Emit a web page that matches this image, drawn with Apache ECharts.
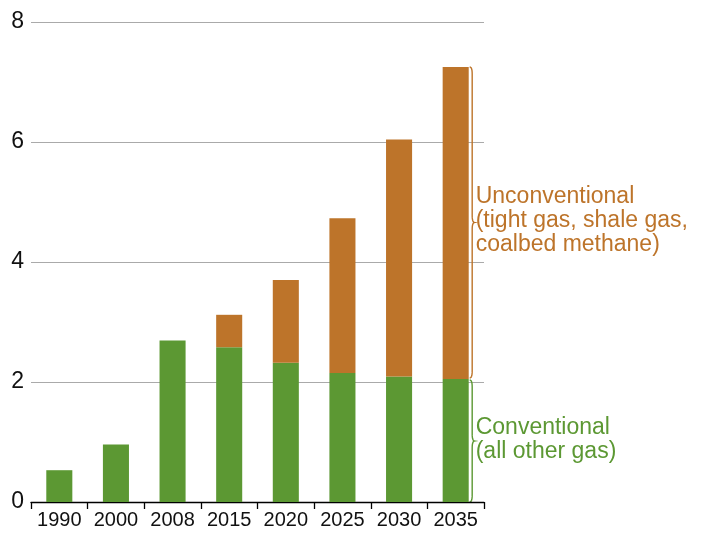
<!DOCTYPE html>
<html><head><meta charset="utf-8">
<script src="https://cdn.jsdelivr.net/npm/echarts@6/dist/echarts.min.js"></script>
<style>html,body{margin:0;padding:0;background:#fff}#c{width:709px;height:533px}</style>
</head><body><div id="c"></div>
<script>
const categories = ['1990','2000','2008','2015','2020','2025','2030','2035'];
const conventional = [0.53, 0.96, 2.69, 2.58, 2.32, 2.15, 2.09, 2.05];
const unconventional = [0, 0, 0, 0.54, 1.38, 2.58, 3.95, 5.20];
const yTicks = [0, 2, 4, 6, 8];
const labelUnconv = 'Unconventional\n(tight gas, shale gas,\ncoalbed methane)';
const labelConv = 'Conventional\n(all other gas)';

const GREEN = '#5C9833', ORANGE = '#BD742A';
const FONT = '"Liberation Sans", Arial, sans-serif';
const chart = echarts.init(document.getElementById('c'));
chart.setOption({
  animation: false,
  grid: {left: 31, right: 225, top: 22, bottom: 31},
  xAxis: {
    type: 'category', data: categories, boundaryGap: true,
    axisLine: {lineStyle: {color: '#000', width: 1.3}},
    axisTick: {show: true, length: 7, interval: 0, lineStyle: {color: '#000', width: 1.3}},
    axisLabel: {color: '#111', fontSize: 20, fontFamily: FONT, margin: 8, interval: 0}
  },
  yAxis: {
    type: 'value', min: yTicks[0], max: yTicks[yTicks.length-1], interval: 2,
    axisLine: {show: false}, axisTick: {show: false},
    splitLine: {lineStyle: {color: '#aaa', width: 1}},
    axisLabel: {color: '#111', fontSize: 23, fontFamily: FONT, margin: 7}
  },
  series: [
    {type: 'bar', stack: 'g', data: conventional, barWidth: '46%', itemStyle: {color: GREEN}},
    {type: 'bar', stack: 'g', data: unconventional, barWidth: '46%', itemStyle: {color: ORANGE}}
  ]
});

function quad(pts, a, c, b) {
  for (let i = 1; i <= 8; i++) {
    const t = i / 8, u = 1 - t;
    pts.push([u*u*a[0] + 2*u*t*c[0] + t*t*b[0], u*u*a[1] + 2*u*t*c[1] + t*t*b[1]]);
  }
}
function brace(x, y1, y2, w) {
  const mid = (y1 + y2) / 2, r = Math.min(7, (y2 - y1) / 6);
  const pts = [[x, y1]];
  quad(pts, [x, y1], [x+w, y1], [x+w, y1+r]);
  pts.push([x+w, mid-r]);
  quad(pts, [x+w, mid-r], [x+w, mid], [x+2*w, mid]);
  quad(pts, [x+2*w, mid], [x+w, mid], [x+w, mid+r]);
  pts.push([x+w, y2-r]);
  quad(pts, [x+w, y2-r], [x+w, y2], [x, y2]);
  return pts;
}
const last = categories.length - 1;
const total = conventional[last] + unconventional[last];
const p0 = chart.convertToPixel({gridIndex: 0}, [last, 0]);
const pC = chart.convertToPixel({gridIndex: 0}, [last, conventional[last]]);
const pT = chart.convertToPixel({gridIndex: 0}, [last, total]);
const bx = p0[0] + 14;
chart.setOption({
  graphic: [
    {type: 'polyline', shape: {points: brace(bx, pT[1], pC[1] - 1, 2.5)}, style: {fill: null, stroke: ORANGE, lineWidth: 1.4}},
    {type: 'polyline', shape: {points: brace(bx, pC[1] + 1, p0[1], 2.5)}, style: {fill: null, stroke: GREEN, lineWidth: 1.4}},
    {type: 'text', x: bx + 6, y: (pT[1] + pC[1]) / 2 - 2, style: {text: labelUnconv, fill: ORANGE, font: '23px ' + FONT, lineHeight: 24, verticalAlign: 'middle', textVerticalAlign: 'middle'}},
    {type: 'text', x: bx + 6, y: (pC[1] + p0[1]) / 2 - 1, style: {text: labelConv, fill: GREEN, font: '23px ' + FONT, lineHeight: 24, verticalAlign: 'middle', textVerticalAlign: 'middle'}}
  ]
});
</script></body></html>
